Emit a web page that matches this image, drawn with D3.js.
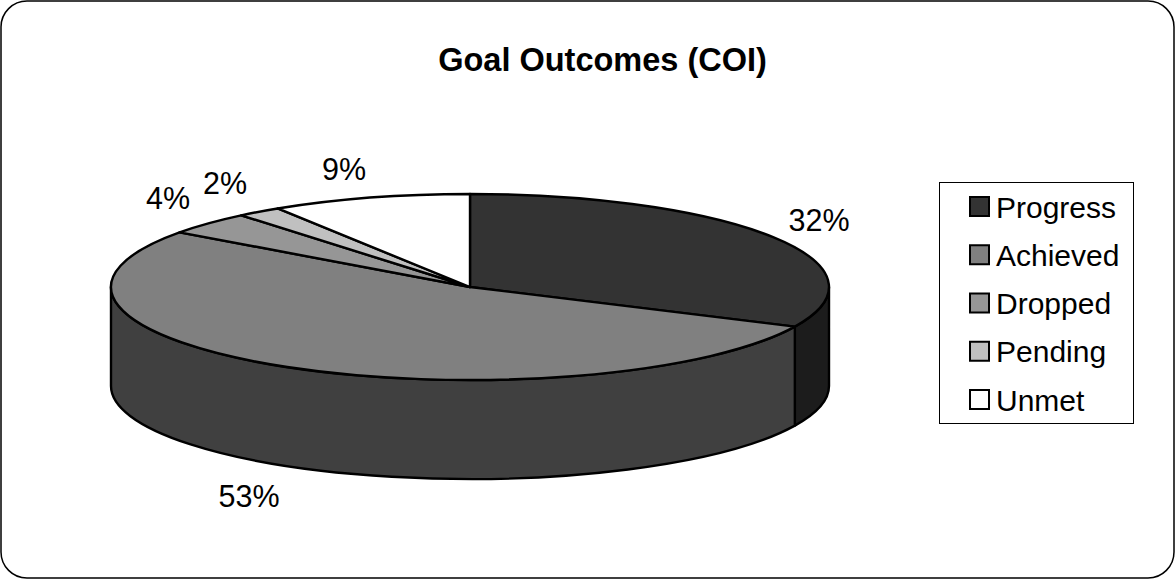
<!DOCTYPE html>
<html>
<head>
<meta charset="utf-8">
<script src="https://cdn.jsdelivr.net/npm/d3@7/dist/d3.min.js"></script>
<style>
html, body { margin: 0; padding: 0; background: #fff; }
svg { display: block; }
text { font-family: "Liberation Sans", Arial, sans-serif; fill: #000; }
</style>
</head>
<body>
<script>
const categories = ["Progress", "Achieved", "Dropped", "Pending", "Unmet"];
const shares = [32, 53, 4, 2, 9];
const topColors = ["#333333", "#808080", "#969696", "#c0c0c0", "#ffffff"];
const sideColors = ["#1c1c1c", "#404040", "#525252", "#6a6a6a", "#8c8c8c"];
const labelSpots = [[819, 220], [249, 496], [168, 198], [225, 183], [344, 169]];
const chartTitle = "Goal Outcomes (COI)";

const width = 1175, height = 579;
const cx = 470, cy = 287, rx = 359, ry = 93, depth = 99;

const svg = d3.select("body").append("svg")
  .attr("width", width).attr("height", height);

// Outer frame
svg.append("rect")
  .attr("x", 1).attr("y", 1)
  .attr("width", width - 2).attr("height", height - 2)
  .attr("rx", 26).attr("ry", 26)
  .attr("fill", "#fff").attr("stroke", "#000").attr("stroke-width", 1.5);

svg.append("text")
  .attr("x", 602.5).attr("y", 71)
  .attr("text-anchor", "middle")
  .attr("font-size", 32.5).attr("font-weight", "bold")
  .text(chartTitle);

// Slices run clockwise from twelve o'clock on a tilted ellipse
const slices = d3.pie().sort(null).value(d => d)(shares);
const px = a => cx + rx * Math.sin(a);
const py = a => cy - ry * Math.cos(a);

function topPath(s) {
  const large = s.endAngle - s.startAngle > Math.PI ? 1 : 0;
  return `M${cx},${cy}L${px(s.startAngle)},${py(s.startAngle)}` +
    `A${rx},${ry} 0 ${large} 1 ${px(s.endAngle)},${py(s.endAngle)}Z`;
}

// Only the rim between 3 and 9 o'clock faces the viewer
function sidePath(s) {
  const a0 = Math.max(s.startAngle, Math.PI / 2);
  const a1 = Math.min(s.endAngle, 3 * Math.PI / 2);
  if (a1 <= a0) return null;
  return `M${px(a0)},${py(a0)}A${rx},${ry} 0 0 1 ${px(a1)},${py(a1)}` +
    `L${px(a1)},${py(a1) + depth}A${rx},${ry} 0 0 0 ${px(a0)},${py(a0) + depth}Z`;
}

const pie = svg.append("g")
  .attr("stroke", "#000").attr("stroke-width", 2.4).attr("stroke-linejoin", "round");

pie.selectAll("path.side")
  .data(slices.filter(s => sidePath(s)))
  .join("path")
  .attr("class", "side")
  .attr("d", sidePath)
  .attr("fill", d => sideColors[d.index]);

pie.selectAll("path.top")
  .data(slices)
  .join("path")
  .attr("class", "top")
  .attr("d", topPath)
  .attr("fill", d => topColors[d.index]);

// Percentage labels
svg.append("g").selectAll("text")
  .data(shares)
  .join("text")
  .attr("x", (d, i) => labelSpots[i][0])
  .attr("y", (d, i) => labelSpots[i][1])
  .attr("text-anchor", "middle")
  .attr("dominant-baseline", "central")
  .attr("font-size", 30.5)
  .text(d => d + "%");

// Legend
const legend = svg.append("g");
legend.append("rect")
  .attr("x", 939.5).attr("y", 182.5)
  .attr("width", 194).attr("height", 241)
  .attr("fill", "#fff").attr("stroke", "#000").attr("stroke-width", 1);

const rowY = d3.scalePoint().domain(categories).range([207, 400]);
const rows = legend.selectAll("g")
  .data(categories)
  .join("g")
  .attr("transform", d => `translate(0,${rowY(d)})`);

rows.append("rect")
  .attr("x", 970).attr("y", -10)
  .attr("width", 19).attr("height", 19)
  .attr("fill", (d, i) => topColors[i])
  .attr("stroke", "#000").attr("stroke-width", 2);

rows.append("text")
  .attr("x", 996).attr("y", 0)
  .attr("dominant-baseline", "central")
  .attr("font-size", 30)
  .text(d => d);
</script>
</body>
</html>
